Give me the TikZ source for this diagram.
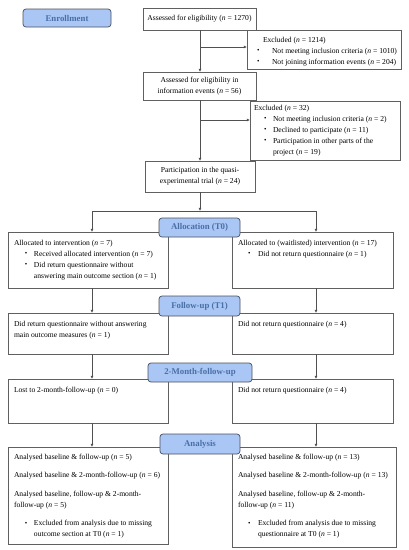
\documentclass[tikz,border=0pt]{standalone}
\usepackage{fontspec}
\setmainfont{Liberation Serif}
\usetikzlibrary{arrows.meta}
\definecolor{bluefill}{HTML}{A9C6F5}
\definecolor{bluetext}{HTML}{4A6FA5}
\definecolor{linec}{HTML}{505050}
\definecolor{boxc}{HTML}{606060}
\definecolor{phasec}{HTML}{4A4F5A}
\newcommand\txtsize{\fontsize{7.6}{11}\selectfont}
\newcommand\cbox[3]{\begin{minipage}[c][#2pt][c]{#1pt}\txtsize\centering #3\end{minipage}}
\newcommand\tbox[4]{\begin{minipage}[c][#2pt][t]{#1pt}\txtsize\raggedright\vspace*{#3pt}#4\end{minipage}}
\newcommand\mybul{\raisebox{0.1ex}{\fontsize{7}{7}\selectfont\textbullet}}
\newcommand\myline[2]{\par\leftskip=#1pt\relax\noindent #2}
\newcommand\myitem[3]{\par\leftskip=#2pt\relax\noindent\llap{\makebox[\dimexpr#2pt-#1pt\relax][l]{\mybul}}#3}
\newcommand\nn{\textit{n}}
\begin{document}
\begin{tikzpicture}[x=1pt,y=-1pt,
  box/.style={draw=boxc, line width=0.7pt, fill=white, inner sep=0pt, outer sep=0pt, anchor=north west},
  phase/.style={draw=phasec, line width=0.7pt, fill=bluefill, rounded corners=3pt, text=bluetext,
    font=\fontsize{8.8}{10}\selectfont\bfseries, inner sep=0pt, align=center},
  arr/.style={draw=linec, line width=0.7pt, -{Latex[length=3.2pt,width=3pt]}},
  lnk/.style={draw=linec, line width=0.7pt}]
\useasboundingbox (0,0) rectangle (409,550);

% enrollment column
\node[box] (as1) at (143,8) {\cbox{113}{22}{Assessed for eligibility (\nn{} = 1270)}};
\node[box] (ex1) at (247,30) {\tbox{154}{39}{7}{%
  \myline{16}{Excluded (\nn{} = 1214)}%
  \myitem{10}{25}{Not meeting inclusion criteria (\nn{} = 1010)}%
  \myitem{10}{25}{Not joining information events (\nn{} = 204)}}};
\node[box] (as2) at (143,72) {\cbox{113}{28}{Assessed for eligibility in\\information events (\nn{} = 56)}};
\node[box] (ex2) at (250,101) {\tbox{150}{59}{4}{%
  \myline{4}{Excluded (\nn{} = 32)}%
  \myitem{14}{23}{Not meeting inclusion criteria (\nn{} = 2)}%
  \myitem{14}{23}{Declined to participate (\nn{} = 11)}%
  \myitem{14}{23}{Participation in other parts of the\\project (\nn{} = 19)}}};
\node[box] (pa) at (145,161) {\cbox{110}{31}{Participation in the quasi-\\experimental trial (\nn{} = 24)}};

% allocation
\node[box] (alL) at (8,232) {\tbox{160}{56}{8}{%
  \myline{6}{Allocated to intervention (\nn{} = 7)}%
  \myitem{17}{26}{Received allocated intervention (\nn{} = 7)}%
  \myitem{17}{26}{Did return questionnaire without\\answering main outcome section (\nn{} = 1)}}};
\node[box] (alR) at (232,232) {\tbox{161}{56}{8}{%
  \myline{6}{Allocated to (waitlisted) intervention (\nn{} = 17)}%
  \myitem{16}{26}{Did not return questionnaire (\nn{} = 1)}}};

% follow-up
\node[box] (fuL) at (8,313) {\tbox{160}{41}{8}{%
  \myline{6}{Did return questionnaire without answering\\main outcome measures (\nn{} = 1)}}};
\node[box] (fuR) at (232,313) {\tbox{161}{41}{8}{%
  \myline{6}{Did not return questionnaire (\nn{} = 4)}}};

% 2-month
\node[box] (tmL) at (8,379) {\tbox{160}{44}{8}{%
  \myline{6}{Lost to 2-month-follow-up (\nn{} = 0)}}};
\node[box] (tmR) at (232,379) {\tbox{161}{44}{8}{%
  \myline{6}{Did not return questionnaire (\nn{} = 4)}}};

% analysis
\node[box] (anL) at (8,447) {\tbox{160}{97}{7}{%
  \myline{6}{Analysed baseline \& follow-up (\nn{} = 5)}\par\vspace{7.5pt}%
  \myline{6}{Analysed baseline \& 2-month-follow-up (\nn{} = 6)}\par\vspace{7.5pt}%
  \myline{6}{Analysed baseline, follow-up \& 2-month-\\follow-up (\nn{} = 5)}\par\vspace{7.5pt}%
  \myitem{17}{26}{Excluded from analysis due to missing\\outcome section at T0 (\nn{} = 1)}}};
\node[box] (anR) at (232,447) {\tbox{164}{100}{7}{%
  \myline{6}{Analysed baseline \& follow-up (\nn{} = 13)}\par\vspace{7.5pt}%
  \myline{6}{Analysed baseline \& 2-month-follow-up (\nn{} = 13)}\par\vspace{7.5pt}%
  \myline{6}{Analysed baseline, follow-up \& 2-month-\\follow-up (\nn{} = 11)}\par\vspace{7.5pt}%
  \myitem{16}{26}{Excluded from analysis due to missing\\questionnaire at T0 (\nn{} = 1)}}};

% connectors
\coordinate (cm) at (200,0);
\coordinate (cl) at (92,0);
\coordinate (cr) at (316,0);
\coordinate (j1) at (200,47);
\coordinate (j2) at (200,120);
\coordinate (sp) at (200,211);
\draw[arr] (cm |- as1.south) -- (cm |- as2.north);
\draw[arr] (j1) -- (ex1.west |- j1);
\draw[arr] (cm |- as2.south) -- (cm |- pa.north);
\draw[arr] (j2) -- (ex2.west |- j2);
\draw[arr] (cm |- pa.south) -- (sp);
\draw[lnk] (cl |- sp) -- (cr |- sp);
\draw[arr] (cl |- sp) -- (cl |- alL.north);
\draw[arr] (cr |- sp) -- (cr |- alR.north);
\draw[arr] (cl |- alL.south) -- (cl |- fuL.north);
\draw[arr] (cr |- alR.south) -- (cr |- fuR.north);
\draw[arr] (cl |- fuL.south) -- (cl |- tmL.north);
\draw[arr] (cr |- fuR.south) -- (cr |- tmR.north);
\draw[arr] (cl |- tmL.south) -- (cl |- anL.north);
\draw[arr] (cr |- tmR.south) -- (cr |- anR.north);

% phase labels
\node[phase, minimum width=88pt, minimum height=18pt] (enr) at (67,18) {Enrollment};
\node[phase, minimum width=81pt, minimum height=19pt] (alc) at (199.5,227.5) {Allocation (T0)};
\node[phase, minimum width=81pt, minimum height=20pt] (fup) at (199.5,306) {Follow-up (T1)};
\node[phase, minimum width=104pt, minimum height=19pt] (tmf) at (200,372.5) {2-Month-follow-up};
\node[phase, minimum width=80pt, minimum height=20pt] (ana) at (200,444) {Analysis};
\end{tikzpicture}
\end{document}
